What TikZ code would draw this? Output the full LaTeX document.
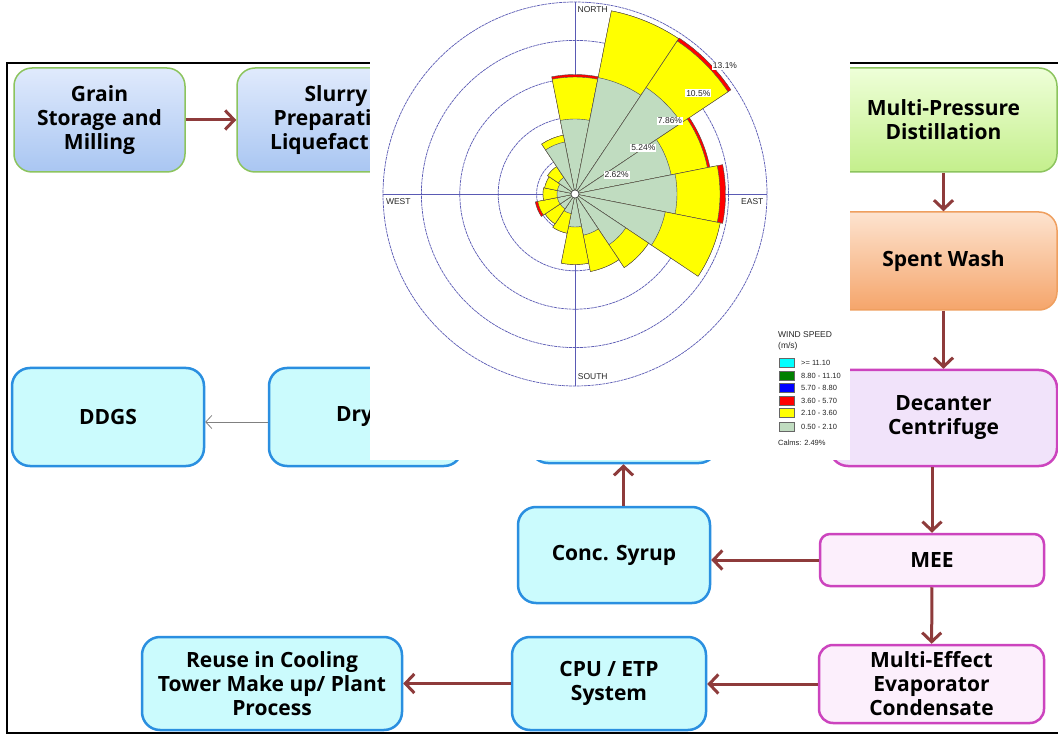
\documentclass[tikz,border=0pt]{standalone}
\usepackage{fontspec}
\setmainfont{Open Sans}
\newfontfamily\plotfont{Liberation Sans}
\usetikzlibrary{arrows.meta}

\definecolor{arrowred}{HTML}{8E3B3B}
\definecolor{cyanfill}{HTML}{CBFBFD}
\definecolor{cyanedge}{HTML}{2A8FE0}
\definecolor{pinkfill}{HTML}{FCEFFC}
\definecolor{lavfill}{HTML}{F1E3FA}
\definecolor{magedge}{HTML}{CC44BE}
\definecolor{blueA}{HTML}{E0EAFC}
\definecolor{blueB}{HTML}{A9C6F2}
\definecolor{limeA}{HTML}{EEFFD8}
\definecolor{limeB}{HTML}{C4EF8C}
\definecolor{greenedge}{HTML}{8CC45E}
\definecolor{peachA}{HTML}{FDE3CF}
\definecolor{peachB}{HTML}{F5A56B}
\definecolor{peachedge}{HTML}{EF9F5F}
\definecolor{rosering}{HTML}{5A5AB4}
\definecolor{calmgreen}{HTML}{C0DCC0}
\definecolor{windyellow}{HTML}{FFFF00}
\definecolor{windred}{HTML}{FF0000}
\definecolor{windcyan}{HTML}{00FFFF}
\definecolor{windgreen}{HTML}{008000}
\definecolor{windblue}{HTML}{0000FF}

\begin{document}
\begin{tikzpicture}[x=1pt,y=-1pt,
	stage/.style={rounded corners=18pt, line width=2pt, align=center, inner sep=0pt,
		font=\fontsize{21}{24}\selectfont\bfseries},
	cyanbox/.style={stage, draw=cyanedge, fill=cyanfill, line width=2.5pt},
	pinkbox/.style={stage, draw=magedge, fill=pinkfill, line width=2.5pt},
	flow/.style={draw=arrowred, line width=3pt, -{Straight Barb[length=9pt,width=19pt]}},
	thinflow/.style={draw=gray, line width=0.8pt, -{Straight Barb[length=6pt,width=13pt]}},
	petal/.style={draw=black!70, line width=0.4pt},
	plotlabel/.style={font=\plotfont\fontsize{8.5}{9}\selectfont, inner sep=1pt, text=black!85}]
	\useasboundingbox (0,0) rectangle (1058,735);
	\clip (0,0) rectangle (1058,735);
	\fill[white] (0,0) rectangle (1058,735);
	\draw[line width=2pt] (7,63) rectangle (1075,733);

	\node[stage, draw=greenedge, line width=1.5pt, top color=blueA, bottom color=blueB, minimum width=171pt, minimum height=104pt] (grain) at (99.5,120) {Grain\\Storage and\\Milling};
	\node[stage, draw=greenedge, line width=1.5pt, top color=blueA, bottom color=blueB, minimum width=198pt, minimum height=104pt] (slurry) at (336,120) {Slurry\\Preparation\\Liquefaction};
	\node[stage, draw=greenedge, line width=1.5pt, top color=limeA, bottom color=limeB, minimum width=227pt, minimum height=104pt] (mpd) at (943.5,120) {Multi-Pressure\\Distillation};
	\node[stage, draw=peachedge, line width=1.5pt, top color=peachA, bottom color=peachB, minimum width=227pt, minimum height=98pt] (spent) at (943.5,261) {Spent Wash};
	\node[stage, draw=magedge, fill=lavfill, line width=2.5pt, minimum width=227pt, minimum height=96pt] (decanter) at (943.5,418) {Decanter\\Centrifuge};
	\node[pinkbox, rounded corners=10pt, minimum width=224pt, minimum height=52pt] (mee) at (932,560) {MEE};
	\node[pinkbox, rounded corners=14pt, minimum width=225pt, minimum height=78pt] (mec) at (931.5,684) {Multi-Effect\\Evaporator\\Condensate};
	\node[cyanbox, minimum width=194pt, minimum height=93pt] (cpu) at (609,683.5) {CPU / ETP\\System};
	\node[cyanbox, minimum width=260pt, minimum height=93pt] (reuse) at (272,683.5) {Reuse in Cooling\\Tower Make up/ Plant\\Process};
	\node[cyanbox, minimum width=192pt, minimum height=96pt] (syrup) at (614,555) {Conc. Syrup};
	\node[cyanbox, minimum width=187pt, minimum height=96pt] (upper) at (623.5,415) {};
	\node[cyanbox, minimum width=193pt, minimum height=98pt] (dryer) at (365.5,417) {Dryer};
	\node[cyanbox, minimum width=192pt, minimum height=98pt] (ddgs) at (108,417) {DDGS};

	\draw[flow] (grain) -- (slurry);
	\draw[flow] (mpd) -- (spent);
	\draw[flow] (spent) -- (decanter);
	\draw[flow] (mee.north |- decanter.south) -- (mee);
	\draw[flow] (mee.west) -- (mee.west -| syrup.east);
	\draw[flow] (upper.south |- syrup.north) -- (upper);
	\draw[flow] (mee) -- (mec);
	\draw[flow] (mec.west) -- (mec.west -| cpu.east);
	\draw[flow] (cpu) -- (reuse);
	\draw[thinflow] ([yshift=-5pt]dryer.west) -- ([yshift=-5pt]ddgs.east);

	% wind rose on its own white sheet
	\fill[white] (370,0) rectangle (850,460);
	\begin{scope}[shift={(575,194)}, yscale=-1]
		\foreach \r in {38.4,76.8,115.2,153.6,192}
			\draw[rosering, line width=0.7pt, dash pattern=on 3pt off 0.7pt] (0,0) circle (\r);
		\draw[rosering, line width=0.6pt] (-192,0) -- (192,0) (0,-192) -- (0,192);
		\foreach \a/\g/\y/\r in {90/75/117/119.5, 67.5/118.7/186.7/186.7, 45/128/184/187.5,
			22.5/98/135/137.5, 0/102/145/150.5, -22.5/92/148/148, -45/61/88.5/88.5,
			-67.5/42/79/79, -90/33/70.5/70.5, -112.5/20/40/40, -135/18/36/36,
			-157.5/18/38/40.5, 180/18/32/32, 157.5/18/31/31, 135/20/33/33, 112.5/53/60/60}{
			\filldraw[petal, fill=windred] (0,0) -- ({\a-11.25}:\r) arc[start angle={\a-11.25}, delta angle=22.5, radius=\r] -- cycle;
			\filldraw[petal, fill=windyellow] (0,0) -- ({\a-11.25}:\y) arc[start angle={\a-11.25}, delta angle=22.5, radius=\y] -- cycle;
			\filldraw[petal, fill=calmgreen] (0,0) -- ({\a-11.25}:\g) arc[start angle={\a-11.25}, delta angle=22.5, radius=\g] -- cycle;
		}
		\filldraw[fill=white, draw=black!80, line width=0.5pt] (0,0) circle (4);
	\end{scope}
	\node[plotlabel] (north) at (592.7,10) {NORTH};
	\node[plotlabel] (west) at (398.3,202) {WEST};
	\node[plotlabel] (east) at (752.3,202) {EAST};
	\node[plotlabel] (south) at (592.7,376.7) {SOUTH};
	\foreach \p/\x/\y in {2.62/616.7/174.7, 5.24/643.3/147.7, 7.86/670/120.7, 10.5/698.3/93.3, 13.1/725/66}
		\node[plotlabel, fill=white] (pct\x) at (\x,\y) {\p\%};

	% legend
	\node[plotlabel, anchor=west, inner sep=0pt] (legtitle) at (778,335) {WIND SPEED};
	\node[plotlabel, anchor=west, inner sep=0pt] (legunit) at (778,346) {(m/s)};
	\foreach \c/\t/\y in {windcyan/{>= 11.10}/363, windgreen/{8.80 - 11.10}/376, windblue/{5.70 - 8.80}/388,
		windred/{3.60 - 5.70}/401, windyellow/{2.10 - 3.60}/413, calmgreen/{0.50 - 2.10}/427}{
		\filldraw[fill=\c, draw=black!60, line width=0.5pt] (779,\y-4.5) rectangle (794,\y+4.5);
		\node[plotlabel, anchor=west, inner sep=0pt, font=\plotfont\fontsize{7.5}{8}\selectfont] at (801,\y) {\t};
	}
	\node[plotlabel, anchor=west, inner sep=0pt, font=\plotfont\fontsize{7.5}{8}\selectfont] (calms) at (778,443) {Calms: 2.49\%};
\end{tikzpicture}
\end{document}
